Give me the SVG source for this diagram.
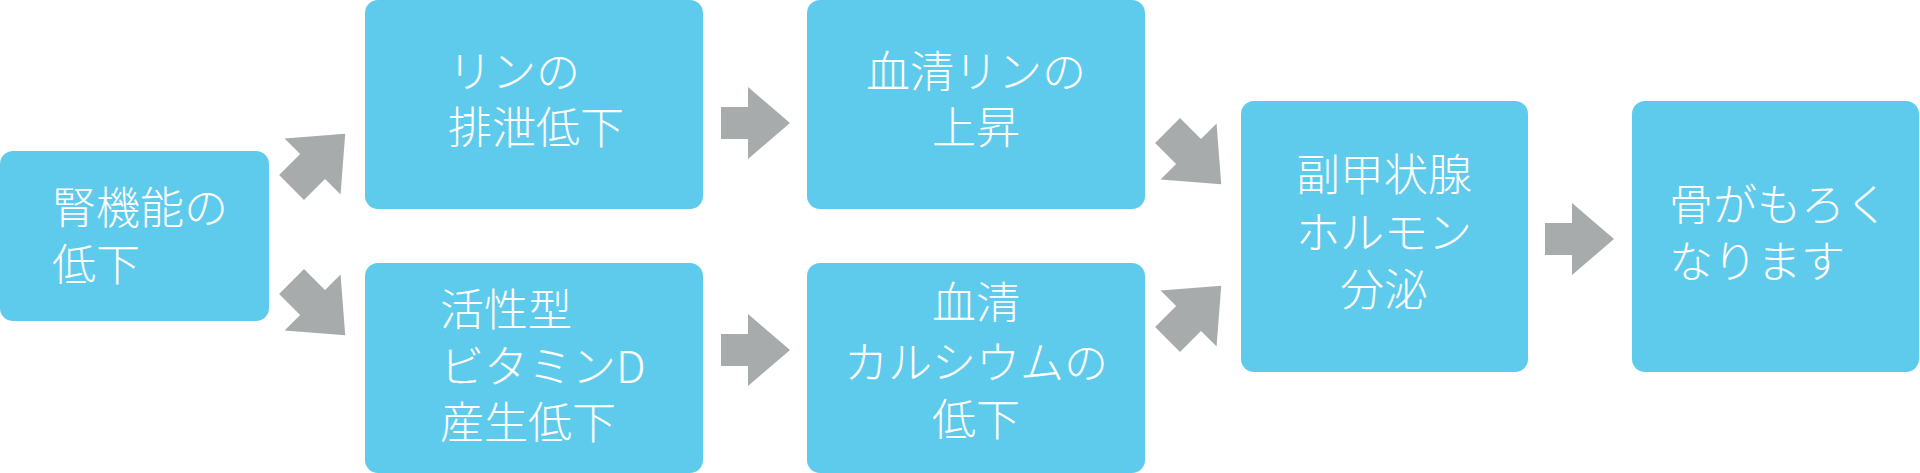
<svg xmlns="http://www.w3.org/2000/svg" width="1920" height="473" viewBox="0 0 1920 473">
<style>
.b{fill:#5fcbec}
.t{fill:#fff;font-family:"Noto Sans CJK JP","Noto Sans",sans-serif;font-size:44px;font-weight:300}
.c{text-anchor:middle}
.a{fill:#a8abac}
</style>
<defs>
<path id="ar" d="M-34,-16 H-7 V-36 L35,0 L-7,36 V16 H-34 Z"/>
</defs>
<rect width="1920" height="473" fill="#fff"/>
<g id="n1"><rect class="b" x="0" y="151" width="269" height="170" rx="13"/>
<text class="t" x="52" y="224">腎機能の</text><text class="t" x="52" y="281">低下</text></g>
<g id="n2"><rect class="b" x="365" y="0" width="338" height="209" rx="13"/>
<text class="t" x="448" y="88">リンの</text><text class="t" x="448" y="144">排泄低下</text></g>
<g id="n3"><rect class="b" x="807" y="0" width="338" height="209" rx="13"/>
<text class="t c" x="976" y="88">血清リンの</text><text class="t c" x="976" y="144">上昇</text></g>
<g id="n4"><rect class="b" x="365" y="263" width="338" height="210" rx="13"/>
<text class="t" x="440" y="326">活性型</text><text class="t" x="440" y="383">ビタミンD</text><text class="t" x="440" y="439">産生低下</text></g>
<g id="n5"><rect class="b" x="807" y="263" width="338" height="210" rx="13"/>
<text class="t c" x="976" y="319">血清</text><text class="t c" x="976" y="379">カルシウムの</text><text class="t c" x="976" y="436">低下</text></g>
<g id="n6"><rect class="b" x="1241" y="101" width="287" height="271" rx="13"/>
<text class="t c" x="1384" y="191">副甲状腺</text><text class="t c" x="1384" y="249">ホルモン</text><text class="t c" x="1384" y="306">分泌</text></g>
<g id="n7"><rect class="b" x="1632" y="101" width="287" height="271" rx="13"/>
<text class="t" x="1669" y="221">骨がもろく</text><text class="t" x="1669" y="278">なります</text></g>
<g id="connectors" class="a">
<use href="#ar" transform="translate(318,161) rotate(-45) scale(1.1)"/>
<use href="#ar" transform="translate(318,308) rotate(45) scale(1.1)"/>
<use href="#ar" transform="translate(755,123)"/>
<use href="#ar" transform="translate(755,350)"/>
<use href="#ar" transform="translate(1194,157) rotate(45) scale(1.1)"/>
<use href="#ar" transform="translate(1194,313) rotate(-45) scale(1.1)"/>
<use href="#ar" transform="translate(1579,239)"/>
</g>
</svg>
